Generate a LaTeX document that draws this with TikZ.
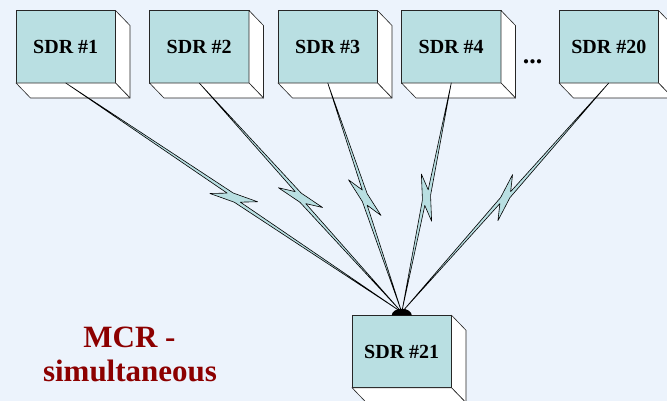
\documentclass[tikz,border=0pt]{standalone}
\usepackage{fontspec}
\setmainfont{Liberation Serif}
\usetikzlibrary{calc}

\definecolor{pagebg}{RGB}{236,243,252}
\definecolor{facefill}{RGB}{185,223,226}
\definecolor{mcrred}{RGB}{140,0,0}

\tikzset{
  sdrbox/.style={draw=black!85, line width=0.6pt, fill=facefill, minimum width=99.5pt,
    minimum height=72.5pt, inner sep=0pt, outer sep=0pt,
    font=\bfseries\fontsize{20}{24}\selectfont},
  sideface/.style={draw=black!85, line width=0.6pt, fill=white, line join=round},
  bolt/.style={draw=black, line width=0.6pt, fill=facefill, line join=round},
  caption/.style={text=mcrred, font=\bfseries\fontsize{31}{35}\selectfont, inner sep=0pt}
}

% side and bottom faces of an extruded box node
\newcommand\sdrfaces[1]{%
  \filldraw[sideface] (#1.north east) -- ++(14.5,15) -- ++(0,72.5) -- (#1.south east) -- cycle;
  \filldraw[sideface] (#1.south west) -- (#1.south east) -- ++(14.5,15) -- ++(-99.5,0) -- cycle;}

% lightning link from #1 to #2 with a zig-zag half way
\newcommand\boltlink[2]{%
  \filldraw[bolt] (#1)
    -- ($(#1)!.5!(#2)!-3pt!(#2)!3.5pt!90:(#2)$)
    -- ($(#1)!.5!(#2)!22pt!(#2)!10pt!90:(#2)$)
    -- ($(#1)!.5!(#2)!8pt!(#2)$)
    -- (#2)
    -- ($(#1)!.5!(#2)!3pt!(#2)!3.5pt!-90:(#2)$)
    -- ($(#1)!.5!(#2)!-22pt!(#2)!10pt!-90:(#2)$)
    -- ($(#1)!.5!(#2)!-8pt!(#2)$)
    -- cycle;}

\begin{document}
\begin{tikzpicture}[x=1pt,y=-1pt]
  \useasboundingbox (0,0) rectangle (667,401);
  \clip (0,0) rectangle (667,401);
  \fill[pagebg] (0,0) rectangle (667,401);

  % top row of radios
  \node[sdrbox] (s1)  at (65.75,46.75)  {SDR \#1};
  \node[sdrbox] (s2)  at (199.25,46.75) {SDR \#2};
  \node[sdrbox] (s3)  at (327.75,46.75) {SDR \#3};
  \node[sdrbox] (s4)  at (451.25,46.75) {SDR \#4};
  \node[sdrbox] (s20) at (608.75,46.75) {SDR \#20};
  \foreach \n in {s1,s2,s3,s4,s20} {\sdrfaces{\n}}

  \node[font=\bfseries\fontsize{26}{30}\selectfont, inner sep=0pt, anchor=base] (dots) at (532.7,63.3) {...};

  % receiving radio
  \node[sdrbox] (s21) at (401.75,351.5) {SDR \#21};
  \sdrfaces{s21}
  \coordinate (hub) at ($(s21.north)+(0,-3)$);

  % wireless links
  \foreach \n in {s1,s2,s3,s4,s20} {\boltlink{\n.south}{hub}}
  \fill[black] ($(s21.north)+(-10,0)$) arc[start angle=180, end angle=0, x radius=10pt, y radius=6.5pt] -- cycle;

  % caption
  \node[caption, anchor=base] (mcr1) at (129.5,347) {MCR -};
  \node[caption, anchor=base] (mcr2) at (130,381.5) {simultaneous};
\end{tikzpicture}
\end{document}
